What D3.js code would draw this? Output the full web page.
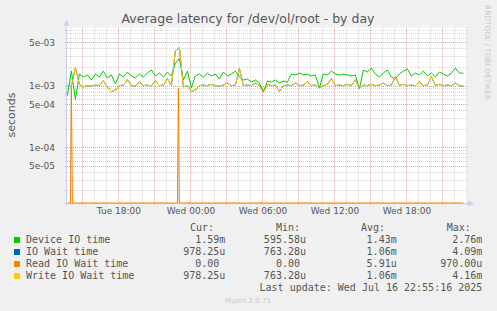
<!DOCTYPE html>
<html><head><meta charset="utf-8">
<script src="https://cdn.jsdelivr.net/npm/d3@7"></script>
<style>
body{margin:0;background:#f0f0f0}
svg{display:block}
text{font-family:"DejaVu Sans",sans-serif}
.mono{font-family:"DejaVu Sans Mono",monospace;font-size:10px;fill:#555}
</style>
</head><body><svg id="c" width="497" height="311"></svg>
<script>
// ---- data (values in milliseconds) ----
const startTime = [2025, 6, 15, 13, 45];   // first sample (local time)
const stepMinutes = 20;
const deviceIO = [0.70,1.72,0.60,1.54,1.38,1.49,1.23,1.54,1.38,1.72,
  1.33,1.49,1.06,1.54,1.38,1.66,1.43,1.33,1.54,1.38,
  1.60,1.79,1.43,1.60,1.38,1.66,1.43,2.30,2.76,1.23,
  1.72,0.92,1.43,1.54,1.38,1.60,1.43,1.54,1.28,1.66,
  1.43,1.54,1.72,1.38,1.23,1.28,1.14,1.23,1.10,0.79,
  1.19,1.14,1.23,1.10,1.19,1.14,1.54,1.49,1.60,1.49,
  1.54,1.43,1.49,0.92,1.54,1.49,1.72,1.54,1.49,1.54,
  1.49,1.43,1.49,0.88,1.79,1.66,1.93,1.54,1.38,1.60,
  1.79,1.38,1.28,1.54,1.72,1.86,1.43,1.60,1.49,1.72,
  1.43,1.60,1.38,1.66,1.54,1.43,1.60,1.93,1.60,1.59];
const ioWait = [1.02,0.98,1.95,1.05,0.95,1.00,0.98,1.02,1.00,1.20,
  0.95,0.80,0.85,1.00,1.02,1.25,1.00,0.98,1.15,1.00,
  1.02,0.99,1.20,1.00,1.02,1.30,1.00,3.70,4.09,0.95,
  1.00,0.80,0.85,1.00,1.02,1.00,1.05,1.00,0.98,1.02,
  1.10,1.00,1.02,1.90,1.00,1.02,1.00,1.10,1.00,0.79,
  1.05,1.00,1.02,0.80,1.00,1.02,1.00,1.10,1.00,1.02,
  1.15,1.00,1.02,0.92,1.00,1.05,1.30,1.00,1.02,1.00,
  1.05,1.00,1.25,0.90,1.02,1.00,1.05,1.00,1.02,1.10,
  1.00,1.02,1.40,1.00,1.05,1.00,1.02,1.00,1.15,1.00,
  1.02,1.40,1.00,1.05,1.00,1.02,1.00,1.10,1.00,0.978];
const writeIO = [1.02,0.98,1.95,1.05,0.95,1.00,0.98,1.02,1.00,1.20,
  0.95,0.80,0.85,1.00,1.02,1.25,1.00,0.98,1.15,1.00,
  1.02,0.99,1.20,1.00,1.02,1.30,1.00,3.70,4.16,0.95,
  1.00,0.80,0.85,1.00,1.02,1.00,1.05,1.00,0.98,1.02,
  1.10,1.00,1.02,1.90,1.00,1.02,1.00,1.10,1.00,0.763,
  1.05,1.00,1.02,0.80,1.00,1.02,1.00,1.10,1.00,1.02,
  1.15,1.00,1.02,0.92,1.00,1.05,1.30,1.00,1.02,1.00,
  1.05,1.00,1.25,0.90,1.02,1.00,1.05,1.00,1.02,1.10,
  1.00,1.02,1.40,1.00,1.05,1.00,1.02,1.00,1.15,1.00,
  1.02,1.40,1.00,1.05,1.00,1.02,1.00,1.10,1.00,0.978];
const readTimes = [[15,13,45],[15,14,0],[15,14,5],[15,14,10],[15,22,55],[15,23,0],[15,23,5],[16,22,45]];
const readIO = [0,0,0.97,0,0,0.90,0,0];

const xTickLabels = ["Tue 18:00","Wed 00:00","Wed 06:00","Wed 12:00","Wed 18:00"];
const xTickTimes = [[15,18],[16,0],[16,6],[16,12],[16,18]];
const yTickValues = [5e-3,1e-3,5e-4,1e-4,5e-5];
const yTickLabels = ["5e-03","1e-03","5e-04","1e-04","5e-05"];

const legendNames = ["Device IO time","IO Wait time","Read IO Wait time","Write IO Wait time"];
const legendColors = ["#00cc00","#0066b3","#ff8000","#ffcc00"];
const curVals = ["1.59m","978.25u","0.00 ","978.25u"];
const minVals = ["595.58u","763.28u","0.00 ","763.28u"];
const avgVals = ["1.43m","1.06m","5.91u","1.06m"];
const maxVals = ["2.76m","4.09m","970.00u","4.16m"];
const lastUpdate = "Last update: Wed Jul 16 22:55:16 2025";

// ---- layout ----
const L = 67, R = 467, T = 27.5, B = 203;
const svg = d3.select("#c");
svg.append("rect").attr("width",497).attr("height",311).attr("fill","#f0f0f0");
svg.append("rect").attr("x",L).attr("y",T).attr("width",R-L).attr("height",B-T).attr("fill","#fff");

const x = d3.scaleTime()
  .domain([new Date(2025,6,15,13,43), new Date(2025,6,16,23,3)])
  .range([L, R]);
const y = d3.scaleLog().domain([1.25e-5, 8.75e-3]).range([B, T]).clamp(true);

const sampleDates = deviceIO.map((_, i) => new Date(startTime[0], startTime[1], startTime[2], startTime[3], startTime[4] + i*stepMinutes));

// grid
const g = svg.append("g");
const minorX = d3.timeHour.every(1).range(x.domain()[0], x.domain()[1]);
minorX.forEach(d => {
  const major = d.getHours() % 3 === 0;
  g.append("line").attr("x1", Math.round(x(d))+0.5).attr("x2", Math.round(x(d))+0.5)
    .attr("y1", T).attr("y2", B+2)
    .attr("stroke", major ? "#e8a0a0" : "#d4d4d4").attr("stroke-dasharray","1,1");
});
const yMinor = [], yMajor = [];
[-5,-4,-3].forEach(e => {
  [1,2,3,4,5,6,7,8,9].forEach(m => {
    const v = m*Math.pow(10,e);
    if (v < y.domain()[0] || v > y.domain()[1]) return;
    (m===1||m===5 ? yMajor : yMinor).push(v);
  });
});
yMinor.forEach(v => g.append("line").attr("x1",L-2).attr("x2",R+1)
  .attr("y1",Math.round(y(v))+0.5).attr("y2",Math.round(y(v))+0.5)
  .attr("stroke","#d4d4d4").attr("stroke-dasharray","1,1"));
yMajor.forEach(v => g.append("line").attr("x1",L-2).attr("x2",R+1)
  .attr("y1",Math.round(y(v))+0.5).attr("y2",Math.round(y(v))+0.5)
  .attr("stroke","#e8a0a0").attr("stroke-dasharray","1,1"));

// axes lines
const axisCol = "#c8cef5";
svg.append("line").attr("x1",64).attr("x2",468).attr("y1",B+0.5).attr("y2",B+0.5).attr("stroke",axisCol);
svg.append("line").attr("x1",L-0.5).attr("x2",L-0.5).attr("y1",B+3).attr("y2",24).attr("stroke",axisCol);
svg.append("path").attr("d",`M${L-3.5},25.5L${L+2.5},25.5L${L-0.5},19.5Z`).attr("fill",axisCol);
svg.append("path").attr("d",`M468,${B-2.5}L468,${B+3.5}L474,${B+0.5}Z`).attr("fill",axisCol);

// lines
const line = d3.line().x(d => x(d[0])).y(d => y(Math.max(d[1]*1e-3, 1e-9)));
const series = [
  sampleDates.map((d,i)=>[d, deviceIO[i]]),
  sampleDates.map((d,i)=>[d, ioWait[i]]),
  readTimes.map((t,i)=>[new Date(2025,6,t[0],t[1],t[2]), readIO[i]]),
  sampleDates.map((d,i)=>[d, writeIO[i]])
];
series.forEach((s, k) => {
  svg.append("path").attr("d", line(s)).attr("fill","none")
    .attr("stroke", legendColors[k]).attr("stroke-width",1);
});

// axis labels
const xa = svg.append("g").attr("transform",`translate(0,${B})`)
  .call(d3.axisBottom(x).tickValues(xTickTimes.map(t=>new Date(2025,6,t[0],t[1],0)))
    .tickSize(0).tickPadding(5).tickFormat((d,i)=>xTickLabels[i]));
xa.select(".domain").remove();
xa.selectAll("text").attr("fill","#555").style("font-size","9px").style("font-family","DejaVu Sans");
const ya = svg.append("g").attr("transform",`translate(${L},0)`)
  .call(d3.axisLeft(y).tickValues(yTickValues).tickSize(0).tickPadding(12).tickFormat((d,i)=>yTickLabels[i]));
ya.select(".domain").remove();
ya.selectAll("text").attr("fill","#555").style("font-size","9px").style("font-family","DejaVu Sans");

// title etc
svg.append("text").attr("x",248).attr("y",23).attr("text-anchor","middle")
  .style("font-size","12.5px").attr("fill","#555").text("Average latency for /dev/ol/root - by day");
svg.append("text").attr("transform","translate(15,115) rotate(-90)").attr("text-anchor","middle")
  .style("font-size","11px").attr("fill","#555").text("seconds");
svg.append("text").attr("transform","translate(484.5,5) rotate(90)").attr("text-anchor","start")
  .style("font-size","7.4px").attr("fill","#c8c8c8").text("RRDTOOL / TOBI OETIKER");
svg.append("text").attr("x",248).attr("y",303).attr("text-anchor","middle")
  .style("font-size","7px").attr("fill","#c8c8c8").text("Munin 2.0.75");

// legend
const cw = 6.02;
const headers = [["Cur:",190],["Min:",276],["Avg:",361],["Max:",446.7]];
headers.forEach(h => svg.append("text").attr("class","mono").attr("x",h[1]).attr("y",231).text(h[0]));
const colEnds = [225.3, 306, 396.7, 482.3];
const cols = [curVals, minVals, avgVals, maxVals];
legendNames.forEach((n, i) => {
  const by = 243.3 + i*12;
  svg.append("rect").attr("x",14).attr("y",by-6.3).attr("width",6).attr("height",6).attr("fill",legendColors[i]);
  svg.append("text").attr("class","mono").attr("x",26).attr("y",by).text(n);
  cols.forEach((c, j) => {
    const s = c[i];
    svg.append("text").attr("class","mono").attr("x", colEnds[j] - s.length*cw).attr("y",by).text(s.trim());
  });
});
svg.append("text").attr("class","mono").attr("x",482.3).attr("y",291).attr("text-anchor","end").text(lastUpdate);
</script>
</body></html>
